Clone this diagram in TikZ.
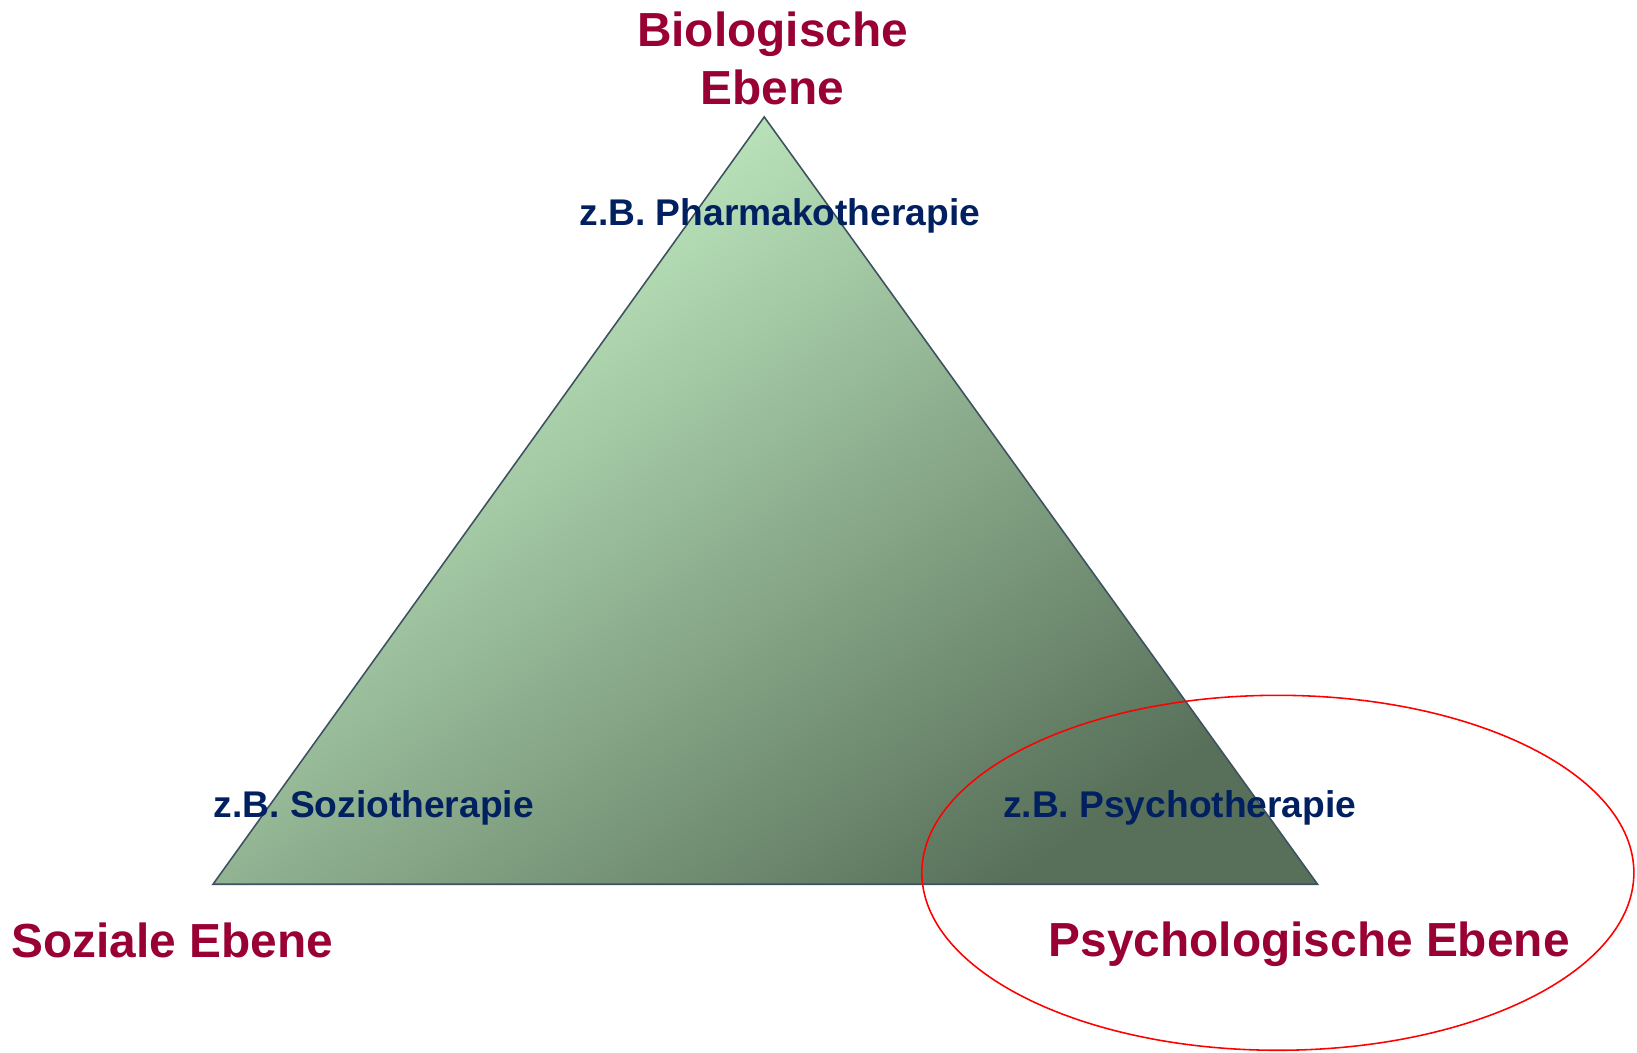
\documentclass[tikz,border=0pt]{standalone}
\usepackage{fontspec}
\setmainfont{Liberation Sans}
\definecolor{ebenered}{HTML}{990033}
\definecolor{therapyblue}{HTML}{002060}
\definecolor{lightgreen}{HTML}{CAF6CA}
\definecolor{darkgreen}{HTML}{58705A}
\definecolor{edgegray}{HTML}{3E5160}
\tikzset{
  ebene/.style={text=ebenered, font=\fontsize{22.9}{27.5}\selectfont\bfseries, align=center, inner sep=0pt},
  therapie/.style={text=therapyblue, font=\fontsize{17.8}{21}\selectfont\bfseries, inner sep=0pt}
}
\begin{document}
\begin{tikzpicture}[x=0.5pt,y=0.5pt]
		\useasboundingbox (0,0) rectangle (1568,1008);
		% Triangle
		\coordinate (apex) at (732,896);
		\coordinate (left) at (204,161);
		\coordinate (right) at (1262,161);
		\shade[top color=lightgreen, bottom color=darkgreen, shading angle=35]
			(apex) -- (left) -- (right) -- cycle;
		\draw[edgegray, line width=0.75pt] (apex) -- (left) -- (right) -- cycle;

		% Ellipse around psychological level
		\draw[red, line width=0.75pt] (1224,172) ellipse [x radius=341, y radius=170];

		% Levels
		\node[ebene] (bio) at (740,952) {Biologische\\Ebene};
		\node[ebene] (sozial) at (165,107) {Soziale Ebene};
		\node[ebene] (psycho) at (1254,104) {Psychologische Ebene};

		% Therapies
		\node[therapie] (pharma) at (747,801) {z.B. Pharmakotherapie};
		\node[therapie] (sozio) at (358,234) {z.B. Soziotherapie};
		\node[therapie] (psychoth) at (1130,234) {z.B. Psychotherapie};
	\end{tikzpicture}
\end{document}
